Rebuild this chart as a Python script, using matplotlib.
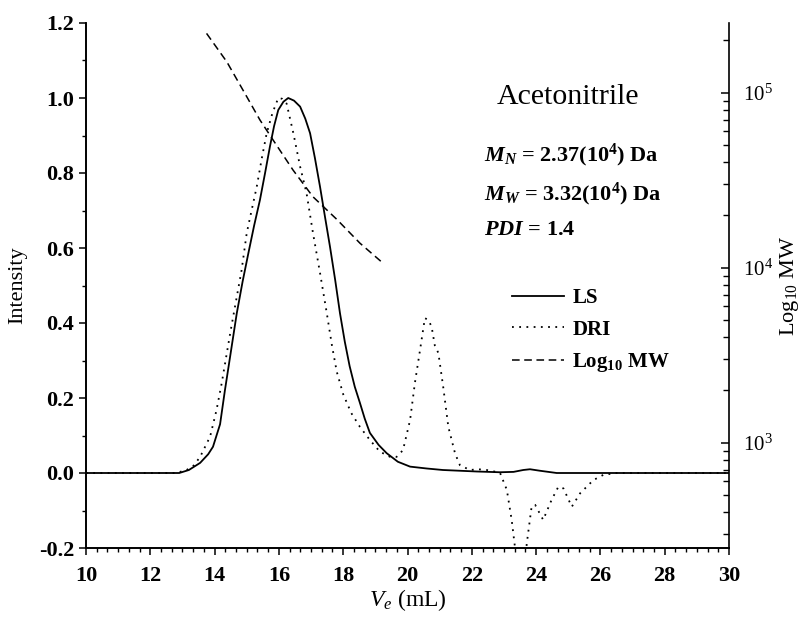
import matplotlib
matplotlib.use("Agg")
import matplotlib.pyplot as plt
from matplotlib.ticker import MultipleLocator, AutoMinorLocator, LogLocator, LogFormatterMathtext
from matplotlib.lines import Line2D

plt.rcParams['font.family'] = ['Liberation Serif', 'DejaVu Serif']
plt.rcParams['mathtext.fontset'] = 'custom'
plt.rcParams['mathtext.rm'] = 'Liberation Serif'
plt.rcParams['mathtext.it'] = 'Liberation Serif:italic'
plt.rcParams['mathtext.bf'] = 'Liberation Serif:bold'
plt.rcParams['mathtext.bfit'] = 'Liberation Serif:italic:bold'

# LS trace (solid)
ls_ve = [10.0, 12.0, 12.9, 13.2, 13.55, 13.8, 13.95, 14.17, 14.32, 14.5, 14.69, 14.87,
         15.05, 15.23, 15.41, 15.57, 15.72, 15.85, 15.98, 16.14, 16.29, 16.47, 16.66,
         16.82, 16.97, 17.12, 17.28, 17.43, 17.59, 17.75, 17.9, 18.05, 18.2, 18.36,
         18.52, 18.67, 18.83, 19.1, 19.35, 19.7, 20.08, 20.6, 21.1, 21.63, 22.15,
         22.88, 23.3, 23.6, 23.81, 24.12, 24.64, 30.0]
ls_int = [0.0, 0.0, 0.0, 0.008, 0.027, 0.05, 0.07, 0.13, 0.22, 0.32, 0.426, 0.51,
          0.586, 0.66, 0.728, 0.80, 0.87, 0.925, 0.968, 0.99, 1.0, 0.993, 0.977,
          0.945, 0.906, 0.84, 0.763, 0.685, 0.603, 0.515, 0.426, 0.35, 0.285, 0.23,
          0.187, 0.145, 0.107, 0.075, 0.053, 0.03, 0.017, 0.012, 0.008, 0.006, 0.004,
          0.002, 0.003, 0.008, 0.01, 0.006, 0.0, 0.0]

# DRI trace (dotted)
dri_ve = [10.0, 12.8, 13.13, 13.35, 13.55, 13.86, 14.06, 14.22, 14.5, 14.84, 15.0,
          15.15, 15.31, 15.47, 15.62, 15.8, 15.98, 16.1, 16.24, 16.45, 16.66, 16.86,
          17.06, 17.28, 17.49, 17.65, 17.8, 18.0, 18.25, 18.52, 18.83, 19.14, 19.46,
          19.66, 19.86, 20.08, 20.23, 20.39, 20.54, 20.65, 20.75, 20.85, 20.96, 21.11,
          21.27, 21.48, 21.63, 21.94, 22.2, 22.46, 22.7, 22.88, 23.09, 23.24, 23.34,
          23.45, 23.6, 23.71, 23.86, 23.97, 24.22, 24.48, 24.69, 24.85, 25.11, 25.37,
          25.78, 26.09, 26.5, 30.0]
dri_int = [0.0, 0.0, 0.008, 0.02, 0.043, 0.097, 0.168, 0.239, 0.38, 0.541, 0.64,
           0.70, 0.763, 0.84, 0.906, 0.96, 1.0, 0.998, 0.985, 0.906, 0.817, 0.746,
           0.64, 0.533, 0.426, 0.34, 0.27, 0.21, 0.16, 0.123, 0.088, 0.057, 0.043,
           0.043, 0.061, 0.141, 0.24, 0.328, 0.413, 0.408, 0.39, 0.34, 0.32, 0.23,
           0.123, 0.052, 0.021, 0.008, 0.01, 0.008, 0.004, 0.0, -0.045, -0.125, -0.196,
           -0.3, -0.3, -0.188, -0.09, -0.085, -0.125, -0.072, -0.037, -0.041, -0.09, -0.054,
           -0.019, -0.005, 0.0, 0.0]

# molecular weight calibration (dashed, right axis)
mw_ve = [13.75, 14.38, 15.0, 15.41, 15.82, 16.44, 17.06, 17.81, 18.52, 19.24]
mw_val = [218000, 150000, 94800, 69800, 53600, 36100, 25400, 18800, 13800, 10600]

fig = plt.figure(figsize=(8.07, 6.19), dpi=100)
ax = fig.add_axes([86 / 807, 1 - 548 / 619, 643 / 807, 525 / 619])
ax2 = ax.twinx()

ls_line, = ax.plot(ls_ve, ls_int, color='black', lw=1.3, ls='-')
dri_line, = ax.plot(dri_ve, dri_int, color='black', lw=1.3, ls=(0, (1, 3)))
mw_line, = ax2.plot(mw_ve, mw_val, color='black', lw=1.1, ls=(0, (5, 3)))

ax.set_xlim(10, 30)
ax.set_ylim(-0.2, 1.2)
ax2.set_yscale('log')
ax2.set_ylim(250, 2.5e5)

ax.xaxis.set_major_locator(MultipleLocator(2))
ax.xaxis.set_minor_locator(AutoMinorLocator(6))
ax.yaxis.set_major_locator(MultipleLocator(0.2))
ax.yaxis.set_minor_locator(AutoMinorLocator(2))
ax.yaxis.set_major_formatter(matplotlib.ticker.FormatStrFormatter('%.1f'))
ax2.yaxis.set_major_locator(LogLocator(base=10, numticks=10))
ax2.yaxis.set_minor_locator(LogLocator(base=10, subs=range(2, 10), numticks=20))
ax2.yaxis.set_major_formatter(LogFormatterMathtext())

for a in (ax, ax2):
    a.spines['top'].set_visible(False)
    for s in a.spines.values():
        s.set_linewidth(1.2)
ax.spines['right'].set_visible(False)

ax.tick_params(axis='both', which='major', direction='out', length=5, width=1.1,
               labelsize=16)
ax.tick_params(axis='both', which='minor', direction='out', length=3, width=1.0)
ax.tick_params(axis='x', pad=8)
ax2.tick_params(axis='y', which='major', direction='in', length=6, width=1.1,
                labelsize=15, pad=10)
ax2.tick_params(axis='y', which='minor', direction='in', length=4, width=1.0)
for lab in ax.get_xticklabels() + ax.get_yticklabels():
    lab.set_fontweight('bold')

ax.set_xlabel(r'$V_e$ (mL)', fontsize=17, labelpad=1)
ax.set_ylabel('Intensity', fontsize=16, labelpad=8)
ax2.set_ylabel(r'Log$_{10}$ MW', fontsize=16, labelpad=4)

ax.text(0.639, 0.859, 'Acetonitrile', transform=ax.transAxes, fontsize=21.5,
        va='center', ha='left')
ax.text(0.619, 0.737, r'$\mathbfit{M}_{\mathbfit{N}}$ = 2.37(10$^{\mathbf{4}}$) Da',
        transform=ax.transAxes, fontsize=16, fontweight='bold', va='baseline')
ax.text(0.619, 0.662, r'$\mathbfit{M}_{\mathbfit{W}}$ = 3.32(10$^{\mathbf{4}}$) Da',
        transform=ax.transAxes, fontsize=16, fontweight='bold', va='baseline')
ax.text(0.619, 0.596, r'$\mathbfit{PDI}$ = 1.4',
        transform=ax.transAxes, fontsize=16, fontweight='bold', va='baseline')

ax.legend([ls_line, dri_line, mw_line], ['LS', 'DRI', r'Log$_{\mathbf{10}}$ MW'],
          loc='upper left', bbox_to_anchor=(0.6625, 0.495), frameon=False,
          prop={'weight': 'bold', 'size': 15}, handlelength=2.5, handletextpad=0.4,
          labelspacing=0.55, borderpad=0, borderaxespad=0)

fig.savefig('out.png', dpi=100)
